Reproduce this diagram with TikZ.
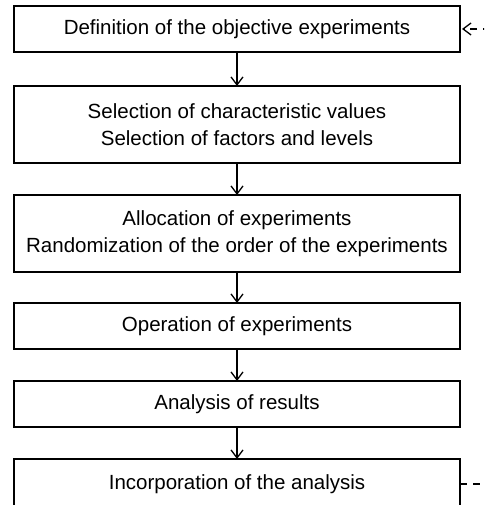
\documentclass[tikz,border=0pt]{standalone}
\usepackage{fontspec}
\setmainfont{Liberation Sans}
\usetikzlibrary{arrows.meta, positioning}

\tikzset{
    stage/.style={draw, line width=1.8pt, minimum width=446pt, minimum height=46pt,
        align=center, inner sep=0pt, outer sep=0pt, font=\fontsize{20.5}{27}\selectfont},
    twoline/.style={stage, minimum height=77pt},
    flow/.style={-{Straight Barb[length=8pt, width=12pt]}, line width=1.3pt},
    feedback/.style={line width=1.3pt, dash pattern=on 7pt off 6pt}
}

\begin{document}
\begin{tikzpicture}[x=1pt, y=1pt, node distance=32pt]
        \clip (0,0) rectangle (484,505);
        \useasboundingbox (0,0) rectangle (484,505);

        \node (def) [stage] at (237,476) {Definition of the objective experiments};
        \node (sel) [twoline, below = 34pt of def] {Selection of characteristic values\\Selection of factors and levels};
        \node (alloc) [twoline, below = 32pt of sel] {Allocation of experiments\\Randomization of the order of the experiments};
        \node (oper) [stage, below = 31pt of alloc] {Operation of experiments};
        \node (anal) [stage, below = 32pt of oper] {Analysis of results};
        % box runs past the lower edge of the page
        \node (incorp) [stage, minimum height=50pt, below = 32pt of anal] {Incorporation of the analysis};

        \coordinate (backtop) at ([xshift=30pt]def.east);
        \coordinate (backbot) at ([xshift=30pt]incorp.east);

        \draw [flow] (def) -- (sel);
        \draw [flow] (sel) -- (alloc);
        \draw [flow] (alloc) -- (oper);
        \draw [flow] (oper) -- (anal);
        \draw [flow] (anal) -- (incorp);

        \draw [feedback] (incorp.east) -- (backbot) -- (backtop);
        \draw [feedback, -{Straight Barb[length=8pt, width=12pt]}] (backtop) -- ([xshift=2pt]def.east);
    \end{tikzpicture}
\end{document}
